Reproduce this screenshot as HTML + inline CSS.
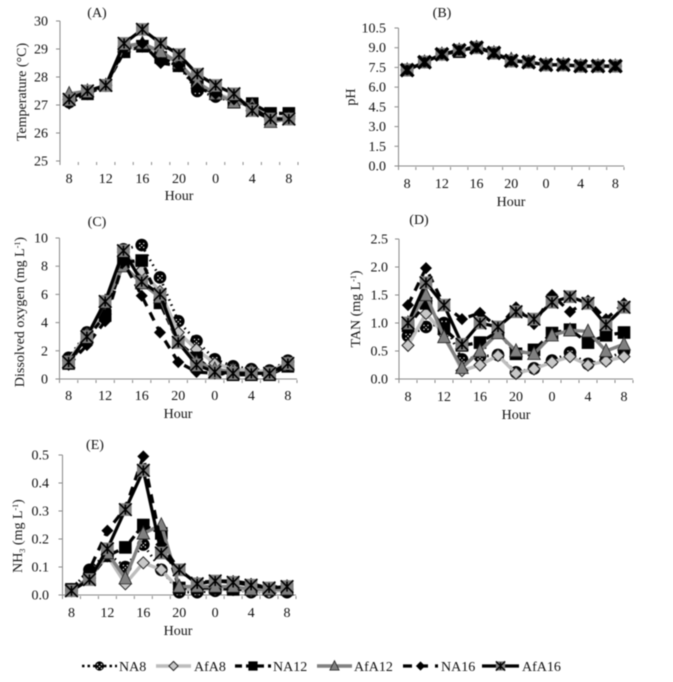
<!DOCTYPE html>
<html>
<head>
<meta charset="utf-8">
<title>Water quality over time</title>
<style>
html,body{margin:0;padding:0;background:#fff;width:673px;height:682px;overflow:hidden}
svg{display:block;filter:blur(0.5px)}
text{font-family:"Liberation Serif",serif;fill:#111;font-size:14px}
</style>
</head>
<body>
<svg id="chart" width="673" height="682" viewBox="0 0 673 682" xmlns="http://www.w3.org/2000/svg">
  <text x="97" y="17" text-anchor="middle">(A)</text>
  <text x="442" y="17" text-anchor="middle">(B)</text>
  <text x="97" y="226" text-anchor="middle">(C)</text>
  <text x="419" y="224" text-anchor="middle">(D)</text>
  <text x="95" y="449" text-anchor="middle">(E)</text>

  <text x="179" y="200" text-anchor="middle">Hour</text>
  <text x="511" y="206" text-anchor="middle">Hour</text>
  <text x="178" y="418" text-anchor="middle">Hour</text>
  <text x="516" y="419" text-anchor="middle">Hour</text>
  <text x="178" y="635" text-anchor="middle">Hour</text>

  <text transform="translate(26,92) rotate(-90)" text-anchor="middle">Temperature (°C)</text>
  <text transform="translate(355,97) rotate(-90)" text-anchor="middle">pH</text>
  <text transform="translate(24,312) rotate(-90)" text-anchor="middle">Dissolved oxygen (mg L<tspan dy="-4" font-size="8">-1</tspan><tspan dy="4">)</tspan></text>
  <text transform="translate(360,309) rotate(-90)" text-anchor="middle">TAN (mg L<tspan dy="-4" font-size="8">-1</tspan><tspan dy="4">)</tspan></text>
  <text transform="translate(22,536) rotate(-90)" text-anchor="middle">NH<tspan dy="3" font-size="8">3</tspan><tspan dy="-3">  (mg L</tspan><tspan dy="-4" font-size="8">-1</tspan><tspan dy="4">)</tspan></text>

  <text x="119" y="671">NA8</text>
  <text x="194" y="671">AfA8</text>
  <text x="273" y="671">NA12</text>
  <text x="354" y="671">AfA12</text>
  <text x="441" y="671">NA16</text>
  <text x="522" y="671">AfA16</text>
</svg>
<script>
// ---------- data ----------
const hourLabels = ['8','10','12','14','16','18','20','22','0','2','4','6','8'];
const seriesKeys = ['NA8','AfA8','NA12','AfA12','NA16','AfA16'];

const tempNA8   = [27.1,27.4,27.7,28.9,29.1,28.6,28.4,27.5,27.3,27.1,27.0,26.5,26.5];
const tempAfA8  = [27.3,27.5,27.7,29.0,29.1,28.8,28.5,27.7,27.4,27.2,27.0,26.5,26.6];
const tempNA12  = [27.2,27.4,27.7,28.9,29.1,28.7,28.4,27.7,27.4,27.1,27.05,26.7,26.7];
const tempAfA12 = [27.4,27.5,27.7,29.1,29.2,28.9,28.5,27.8,27.4,27.1,27.0,26.4,26.5];
const tempNA16  = [27.05,27.4,27.7,29.0,29.2,28.5,28.4,27.6,27.4,27.2,26.9,26.5,26.5];
const tempAfA16 = [27.2,27.5,27.7,29.2,29.7,29.2,28.8,28.1,27.7,27.4,26.8,26.5,26.5];

const phNA8   = [7.3,7.9,8.5,8.8,9.0,8.6,8.0,7.9,7.7,7.7,7.6,7.6,7.6];
const phAfA8  = [7.3,7.9,8.5,8.8,9.0,8.6,8.0,7.9,7.7,7.7,7.6,7.6,7.6];
const phNA12  = [7.3,7.9,8.5,8.7,9.0,8.6,8.0,7.9,7.7,7.7,7.6,7.6,7.6];
const phAfA12 = [7.3,7.9,8.5,8.8,9.0,8.6,8.1,7.9,7.7,7.7,7.6,7.6,7.6];
const phNA16  = [7.3,7.9,8.5,8.8,9.1,8.6,8.0,7.9,7.7,7.7,7.6,7.6,7.6];
const phAfA16 = [7.3,7.9,8.5,8.8,9.0,8.6,8.0,7.9,7.7,7.7,7.6,7.6,7.6];

const doNA8   = [1.5,3.3,4.8,9.2,9.5,7.2,4.1,2.7,1.4,0.9,0.7,0.6,1.3];
const doAfA8  = [1.3,3.2,4.6,9.0,7.7,6.2,3.3,2.1,1.1,0.7,0.6,0.5,1.2];
const doNA12  = [1.1,2.9,4.5,8.3,8.4,5.4,2.6,1.5,0.5,0.3,0.3,0.3,0.9];
const doAfA12 = [1.2,3.0,5.5,8.0,6.8,5.8,2.6,1.2,0.7,0.5,0.4,0.4,1.0];
const doNA16  = [1.0,2.4,4.1,8.3,5.9,3.3,1.2,0.5,0.4,0.3,0.3,0.3,0.9];
const doAfA16 = [1.2,3.0,5.5,9.1,6.9,6.0,2.6,1.0,0.5,0.4,0.4,0.4,1.1];

const tanNA8   = [0.77,0.93,1.0,0.35,0.40,0.43,0.12,0.19,0.33,0.47,0.27,0.35,0.50];
const tanAfA8  = [0.60,1.17,0.80,0.15,0.25,0.42,0.10,0.18,0.30,0.40,0.25,0.32,0.40];
const tanNA12  = [0.95,1.35,0.90,0.60,0.65,0.85,0.45,0.52,0.82,0.88,0.65,0.78,0.83];
const tanAfA12 = [1.0,1.5,0.75,0.20,0.50,0.82,0.50,0.45,0.78,0.87,0.85,0.50,0.62];
const tanNA16  = [1.32,1.98,1.32,1.07,1.18,0.92,1.28,0.98,1.50,1.20,1.40,1.07,1.35];
const tanAfA16 = [1.0,1.72,1.32,0.62,1.0,0.93,1.20,1.07,1.37,1.47,1.35,0.97,1.28];

const nh3NA8   = [0.02,0.09,0.15,0.10,0.18,0.09,0.01,0.01,0.015,0.02,0.01,0.01,0.01];
const nh3AfA8  = [0.015,0.06,0.14,0.04,0.115,0.09,0.02,0.02,0.02,0.02,0.015,0.01,0.02];
const nh3NA12  = [0.02,0.06,0.14,0.17,0.25,0.22,0.025,0.025,0.025,0.02,0.02,0.02,0.02];
const nh3AfA12 = [0.015,0.06,0.15,0.06,0.22,0.25,0.03,0.03,0.03,0.03,0.02,0.02,0.02];
const nh3NA16  = [0.02,0.09,0.23,0.31,0.495,0.18,0.09,0.045,0.05,0.05,0.04,0.025,0.035];
const nh3AfA16 = [0.015,0.055,0.165,0.305,0.445,0.15,0.09,0.04,0.05,0.045,0.035,0.025,0.03];

const tempTicks = [25,26,27,28,29,30];
const phTicks   = [0,1.5,3,4.5,6,7.5,9,10.5];
const doTicks   = [0,2,4,6,8,10];
const tanTicks  = [0,0.5,1,1.5,2,2.5];
const nh3Ticks  = [0,0.1,0.2,0.3,0.4,0.5];

// ---------- layout ----------
const NS = 'http://www.w3.org/2000/svg';
const svg = document.getElementById('chart');

const styles = {
  NA8:   {color:'#000',    width:2.6, dash:'1.5 4'},
  AfA8:  {color:'#bdbdbd', width:3.4, dash:''},
  NA12:  {color:'#000',    width:3.2, dash:'7 4'},
  AfA12: {color:'#808080', width:3.4, dash:''},
  NA16:  {color:'#000',    width:3.2, dash:'9 7'},
  AfA16: {color:'#000',    width:3.2, dash:''}
};

const panels = [
  {id:'a', series:[tempNA8,tempAfA8,tempNA12,tempAfA12,tempNA16,tempAfA16], ticks:tempTicks, dec:0, left:60, right:298, top:21, bottom:161, labelX:48, xLabelY:183, base:false, tickDown:4, crossWidth:1.6},
  {id:'b', series:[phNA8,phAfA8,phNA12,phAfA12,phNA16,phAfA16], ticks:phTicks, dec:1, left:398.5, right:624, top:28, bottom:166, labelX:386, xLabelY:188, base:true, tickDown:4, crossWidth:3.2},
  {id:'c', series:[doNA8,doAfA8,doNA12,doAfA12,doNA16,doAfA16], ticks:doTicks, dec:0, left:59.5, right:297, top:238, bottom:379, labelX:48, xLabelY:400, base:true, tickDown:4, crossWidth:1.6},
  {id:'d', series:[tanNA8,tanAfA8,tanNA12,tanAfA12,tanNA16,tanAfA16], ticks:tanTicks, dec:1, left:399, right:633, top:239, bottom:379, labelX:388, xLabelY:401, base:true, tickDown:4, crossWidth:1.6},
  {id:'e', series:[nh3NA8,nh3AfA8,nh3NA12,nh3AfA12,nh3NA16,nh3AfA16], ticks:nh3Ticks, dec:1, left:62.5, right:296, top:455, bottom:595, labelX:49, xLabelY:617, base:true, tickDown:4, crossWidth:1.6}
];

function el(tag, attrs, parent) {
  const n = document.createElementNS(NS, tag);
  for (const k in attrs) n.setAttribute(k, attrs[k]);
  parent.appendChild(n);
  return n;
}

function drawMarker(key, cx, cy, s, g, crossWidth) {
  let m;
  if (key === 'NA8') {
    m = el('g', {}, g);
    el('circle', {cx:cx, cy:cy, r:s, fill:'#000'}, m);
    [[-2,-1.5],[2,-1.5],[0,0.6],[-2,2.4],[2,2.4]].forEach(function (d) {
      el('circle', {cx:cx+d[0], cy:cy+d[1], r:0.7, fill:'#fff'}, m);
    });
  } else if (key === 'AfA8') {
    m = el('polygon', {points:[cx,cy-s,cx+s,cy,cx,cy+s,cx-s,cy].join(' '), fill:'#c8c8c8', stroke:'#222', 'stroke-width':1}, g);
  } else if (key === 'NA12') {
    m = el('rect', {x:cx-s, y:cy-s, width:2*s, height:2*s, fill:'#000'}, g);
  } else if (key === 'AfA12') {
    m = el('polygon', {points:[cx,cy-s*1.15,cx+s,cy+s*0.9,cx-s,cy+s*0.9].join(' '), fill:'#808080', stroke:'#222', 'stroke-width':0.8}, g);
  } else if (key === 'NA16') {
    m = el('polygon', {points:[cx,cy-s,cx+s,cy,cx,cy+s,cx-s,cy].join(' '), fill:'#000'}, g);
  } else {
    m = el('g', {}, g);
    el('rect', {x:cx-s, y:cy-s, width:2*s, height:2*s, fill:'#808080'}, m);
    el('path', {d:'M'+(cx-s)+' '+(cy-s)+'L'+(cx+s)+' '+(cy+s)+'M'+(cx+s)+' '+(cy-s)+'L'+(cx-s)+' '+(cy+s)+'M'+cx+' '+(cy-s*0.8)+'V'+(cy+s*0.8), stroke:'#000', 'stroke-width':crossWidth, fill:'none'}, m);
  }
  return m;
}

function drawPanel(p) {
  const n = hourLabels.length;
  const step = (p.right - p.left) / n;
  const minV = p.ticks[0];
  const maxV = p.ticks[p.ticks.length - 1];
  const xScale = function (i) { return p.left + step * (i + 0.5); };
  const yScale = function (v) { return p.bottom - (v - minV) / (maxV - minV) * (p.bottom - p.top); };

  const g = el('g', {}, svg);
  
  

  const axes = el('g', {stroke:'#8a8a8a', 'stroke-width':1, fill:'none'}, g);
  
  
  el('line', {x1:p.left, x2:p.left, y1:p.top, y2:p.bottom + p.tickDown}, axes);
  if (p.base) el('line', {x1:p.left, x2:p.right, y1:p.bottom, y2:p.bottom}, axes);
  for (let i = 0; i <= n; i++) {
    const tx = p.left + step * i;
    el('line', {x1:tx, x2:tx, y1:p.bottom + 1, y2:p.bottom + p.tickDown}, axes);
  }

  p.ticks.forEach(function (t) {
    const ty = yScale(t);
    el('line', {x1:p.left - 4, x2:p.left, y1:ty, y2:ty}, axes);
    const lab = el('text', {x:p.labelX, y:ty + 4.5, 'text-anchor':'end'}, g);
    
    
    lab.textContent = t.toFixed(p.dec);
  });

  hourLabels.forEach(function (h, i) {
    if (i % 2 !== 0) return;
    const lab = el('text', {x:xScale(i), y:p.xLabelY, 'text-anchor':'middle'}, g);
    
    
    lab.textContent = h;
  });

  seriesKeys.forEach(function (key, k) {
    const values = p.series[k];
    const st = styles[key];
    const sg = el('g', {}, g);
    
    
    const pts = values.map(function (v, i) { return xScale(i) + ',' + yScale(v); }).join(' ');
    const line = el('polyline', {points:pts, fill:'none', stroke:st.color, 'stroke-width':st.width}, sg);
    if (st.dash) line.setAttribute('stroke-dasharray', st.dash);
    values.forEach(function (v, i) {
      const size = key === 'NA16' || key === 'AfA8' ? 6 : 6.3;
      const mark = drawMarker(key, xScale(i), yScale(v), size, sg, p.crossWidth);
      
      
    });
  });
}

panels.forEach(drawPanel);

// ---------- legend ----------
const legendSpans = [[82,117],[156,191],[235,271],[317,352],[403,438],[482,519]];
seriesKeys.forEach(function (key, k) {
  const st = styles[key];
  const lg = el('g', {}, svg);
  
  
  const sp = legendSpans[k];
  const ln = el('line', {x1:sp[0], x2:sp[1], y1:666, y2:666, stroke:st.color, 'stroke-width':st.width}, lg);
  if (st.dash) ln.setAttribute('stroke-dasharray', key === 'NA8' ? '2.5 3' : st.dash);
  drawMarker(key, (sp[0] + sp[1]) / 2, 666, 4.6, lg, 1.4);
});
</script>
</body>
</html>
